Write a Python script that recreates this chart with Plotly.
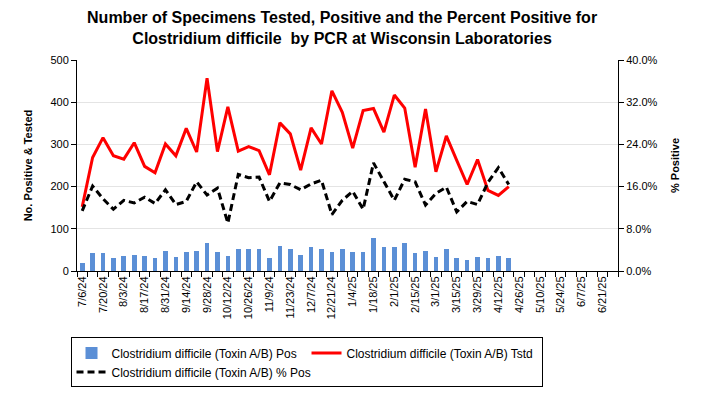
import plotly.graph_objects as go
from datetime import date, timedelta

# Week labels (52 weeks)
start = date(2024, 7, 6)
week_labels = [f"{(start + timedelta(weeks=i)).month}/{(start + timedelta(weeks=i)).day}/{(start + timedelta(weeks=i)).year % 100}" for i in range(52)]

# Series values (42 reported weeks: 7/6/24 .. 4/19/25)
positives = [19, 42, 42, 31, 35, 38, 35, 31, 47, 33, 45, 47, 66, 45,
             35, 52, 52, 52, 31, 59, 52, 38, 57, 52, 45, 52, 45, 45,
             78, 57, 57, 66, 42, 47, 33, 52, 31, 26, 33, 31, 35, 31]
tested = [152, 269, 316, 273, 265, 304, 248, 233, 301, 273, 338, 282, 457, 283,
          389, 284, 295, 285, 228, 351, 325, 239, 339, 301, 427, 376, 291, 380,
          385, 329, 417, 386, 246, 384, 235, 320, 262, 205, 264, 191, 179, 200]
pct_pos = [11.4, 16.1, 13.7, 11.7, 13.4, 12.9, 14.0, 12.8, 15.4, 12.6, 13.2, 16.9, 14.4, 15.7,
           9.1, 18.3, 17.7, 17.8, 13.2, 16.7, 16.4, 15.4, 16.5, 17.2, 10.7, 13.4, 15.1, 11.7,
           20.5, 17.0, 13.4, 17.4, 16.9, 12.5, 14.7, 15.9, 11.2, 13.2, 12.6, 16.8, 19.6, 16.4]

left_ticks = [0, 100, 200, 300, 400, 500]
right_ticks = [0, 0.08, 0.16, 0.24, 0.32, 0.40]

FONT = "Arial, Liberation Sans, sans-serif"
xs = list(range(len(positives)))

fig = go.Figure()
fig.add_trace(go.Bar(
    x=xs, y=positives, name="Clostridium difficile (Toxin A/B) Pos",
    marker=dict(color="#5B8FD6", line=dict(width=0)), width=0.45,
))
fig.add_trace(go.Scatter(
    x=xs, y=tested, name="Clostridium difficile (Toxin A/B) Tstd",
    mode="lines", line=dict(color="#FF0000", width=3),
))
fig.add_trace(go.Scatter(
    x=xs, y=[p / 100 for p in pct_pos], name="Clostridium difficile (Toxin A/B) % Pos",
    mode="lines", line=dict(color="#000000", width=3, dash="7px,4px"), yaxis="y2",
))

fig.update_layout(
    width=704, height=394,
    margin=dict(l=77, r=86, t=60, b=123, autoexpand=False),
    paper_bgcolor="white", plot_bgcolor="white",
    font=dict(family=FONT, size=11, color="black"),
    title=dict(
        text="Number of Specimens Tested, Positive and the Percent Positive for<br>Clostridium difficile  by PCR at Wisconsin Laboratories",
        font=dict(family=FONT, size=16, color="black", weight="bold"),
        x=0.49, xref="paper", xanchor="center",
        y=0.942, yref="container", yanchor="middle",
    ),
    bargap=0,
    xaxis=dict(
        range=[-0.5, len(week_labels) - 0.5],
        tickmode="array",
        tickvals=list(range(0, len(week_labels), 2)),
        ticktext=week_labels[::2],
        tickangle=-90,
        tickfont=dict(size=11),
        ticks="", showgrid=False, zeroline=False,
        showline=True, linecolor="black", linewidth=1,
        minor=dict(ticks="outside", tickmode="linear", tick0=-0.5, dtick=1,
                   ticklen=5, tickcolor="black", showgrid=False),
    ),
    yaxis=dict(
        range=[0, 500], tickmode="array", tickvals=left_ticks,
        ticks="outside", ticklen=5, tickcolor="black",
        showline=True, linecolor="black", linewidth=1,
        gridcolor="#E4E4E4", zeroline=False,
        title=dict(text="No. Positive & Tested", font=dict(size=11, weight="bold"), standoff=15),
    ),
    yaxis2=dict(
        range=[0, 0.40], tickmode="array", tickvals=right_ticks, tickformat=".1%",
        overlaying="y", side="right",
        ticks="outside", ticklen=5, tickcolor="black",
        showline=True, linecolor="black", linewidth=1,
        showgrid=False, zeroline=False,
        title=dict(text="% Positive", font=dict(size=11, weight="bold"), standoff=14),
    ),
    legend=dict(
        orientation="h", x=-0.012, xanchor="left", y=-0.315, yanchor="top",
        bordercolor="black", borderwidth=1, bgcolor="white",
        font=dict(size=12), entrywidth=190, traceorder="normal",
        itemwidth=30, tracegroupgap=0,
    ),
    showlegend=True,
)

fig.write_html("out.html", config={"displayModeBar": False},
               post_script="document.body.style.margin='0';")
